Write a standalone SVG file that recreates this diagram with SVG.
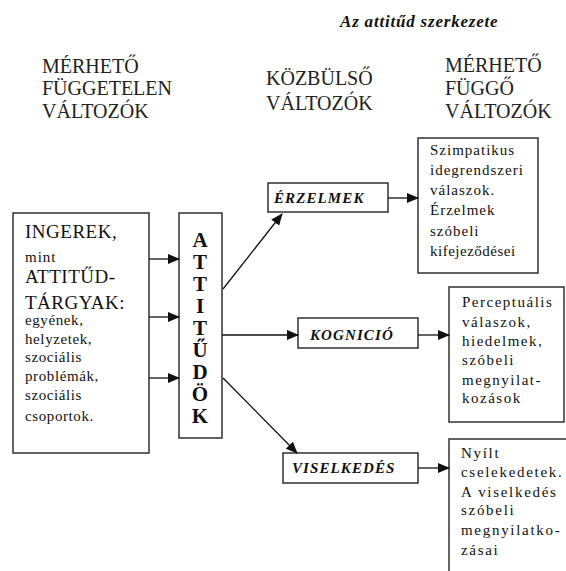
<svg xmlns="http://www.w3.org/2000/svg" width="566" height="571" viewBox="0 0 566 571">
<defs>
<marker id="ah" markerUnits="userSpaceOnUse" markerWidth="12" markerHeight="10" refX="11" refY="5" orient="auto">
<path d="M0,0 L12,5 L0,10 Z" fill="#111"/>
</marker>
<style>
text{font-family:'Liberation Serif',serif;fill:#111}
.box{fill:#fff;stroke:#222;stroke-width:1.4}
.hd{font-size:20px;fill:#222}
.t{font-size:15px}
.big{font-size:19px;letter-spacing:0.5px}
.sm{font-size:15px;letter-spacing:0.6px}
.lb{font-size:15px;font-weight:bold;font-style:italic;letter-spacing:1.1px}
.col{font-size:21px;font-weight:bold;text-anchor:middle}
.c{stroke:#111;stroke-width:1.3;fill:none;marker-end:url(#ah)}
</style>
</defs>
<rect width="566" height="571" fill="#fff"/>
<g id="title">
<text x="340" y="27" font-size="17" font-weight="bold" font-style="italic" letter-spacing="0.8">Az attitűd szerkezete</text>
</g>
<g id="headers">
<text class="hd" x="42" y="73">MÉRHETŐ</text>
<text class="hd" x="42" y="95">FÜGGETELEN</text>
<text class="hd" x="42" y="118">VÁLTOZÓK</text>
<text class="hd" x="266" y="85">KÖZBÜLSŐ</text>
<text class="hd" x="266" y="110">VÁLTOZÓK</text>
<text class="hd" x="445" y="72">MÉRHETŐ</text>
<text class="hd" x="445" y="95">FÜGGŐ</text>
<text class="hd" x="445" y="118">VÁLTOZÓK</text>
</g>
<g id="ingerek">
<rect class="box" x="13" y="213" width="136" height="240"/>
<text class="big" x="25" y="238">INGEREK,</text>
<text class="t" x="25" y="262" font-size="17" letter-spacing="1">mint</text>
<text class="big" x="25" y="283">ATTITŰD-</text>
<text class="big" x="25" y="309" letter-spacing="0">TÁRGYAK:</text>
<text class="sm" x="25" y="325">egyének,</text>
<text class="sm" x="25" y="344">helyzetek,</text>
<text class="sm" x="25" y="362">szociális</text>
<text class="sm" x="25" y="381">problémák,</text>
<text class="sm" x="25" y="400">szociális</text>
<text class="sm" x="25" y="421">csoportok.</text>
</g>
<g id="attitudok">
<rect class="box" x="179" y="213" width="43" height="225"/>
<text class="col" x="200" y="247">A</text>
<text class="col" x="200" y="269">T</text>
<text class="col" x="200" y="291">T</text>
<text class="col" x="200" y="313">I</text>
<text class="col" x="200" y="335">T</text>
<text class="col" x="200" y="357">Ű</text>
<text class="col" x="200" y="379">D</text>
<text class="col" x="200" y="401">Ö</text>
<text class="col" x="200" y="423">K</text>
</g>
<g id="erzelmek">
<rect class="box" x="268" y="183" width="120" height="29"/>
<text class="lb" x="274" y="203">ÉRZELMEK</text>
</g>
<g id="kognicio">
<rect class="box" x="298" y="318" width="120" height="30"/>
<text class="lb" x="310" y="340">KOGNICIÓ</text>
</g>
<g id="viselkedes">
<rect class="box" x="283" y="453" width="135" height="30"/>
<text class="lb" x="292" y="473">VISELKEDÉS</text>
</g>
<g id="valasz1" letter-spacing="1">
<rect class="box" x="418" y="138" width="120" height="135"/>
<text class="t" x="430" y="155">Szimpatikus</text>
<text class="t" x="430" y="175">idegrendszeri</text>
<text class="t" x="430" y="195">válaszok.</text>
<text class="t" x="430" y="215">Érzelmek</text>
<text class="t" x="430" y="236">szóbeli</text>
<text class="t" x="430" y="256" letter-spacing="0.5">kifejeződései</text>
</g>
<g id="valasz2" letter-spacing="1.5">
<rect class="box" x="449" y="287" width="115" height="135"/>
<text class="t" x="462" y="307">Perceptuális</text>
<text class="t" x="462" y="327">válaszok,</text>
<text class="t" x="462" y="346">hiedelmek,</text>
<text class="t" x="462" y="365">szóbeli</text>
<text class="t" x="462" y="385">megnyilat-</text>
<text class="t" x="462" y="403">kozások</text>
</g>
<g id="valasz3" letter-spacing="1.7">
<rect class="box" x="449" y="439" width="130" height="150"/>
<text class="t" x="461" y="458">Nyílt</text>
<text class="t" x="461" y="477">cselekedetek.</text>
<text class="t" x="461" y="497">A viselkedés</text>
<text class="t" x="461" y="515">szóbeli</text>
<text class="t" x="461" y="535">megnyilatko-</text>
<text class="t" x="461" y="555">zásai</text>
</g>
<g id="connectors">
<line class="c" x1="149" y1="259" x2="179" y2="259"/>
<line class="c" x1="149" y1="317" x2="179" y2="317"/>
<line class="c" x1="149" y1="378" x2="179" y2="378"/>
<line class="c" x1="223" y1="289" x2="282" y2="214"/>
<line class="c" x1="222" y1="335" x2="298" y2="335"/>
<line class="c" x1="223" y1="378" x2="297" y2="453"/>
<line class="c" x1="388" y1="198" x2="418" y2="198"/>
<line class="c" x1="418" y1="335" x2="449" y2="335"/>
<line class="c" x1="418" y1="468" x2="449" y2="468"/>
</g>
</svg>
